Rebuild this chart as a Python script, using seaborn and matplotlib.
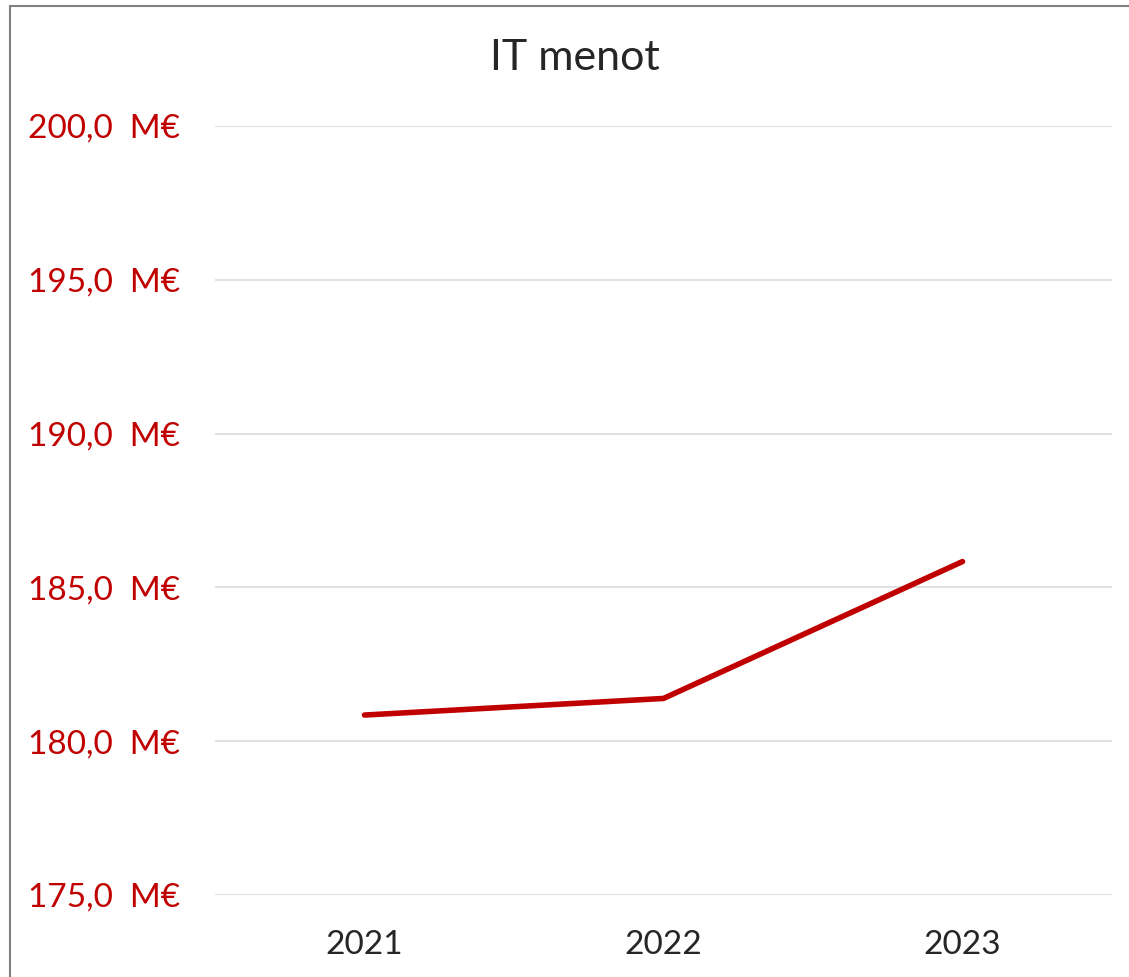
import matplotlib
matplotlib.use('Agg')
import matplotlib.pyplot as plt
import seaborn as sns
import pandas as pd
from matplotlib.patches import Rectangle
from matplotlib.ticker import FuncFormatter

years = ['2021', '2022', '2023']
spend = [180.85, 181.39, 185.84]  # M€
y_ticks = [175, 180, 185, 190, 195, 200]

df = pd.DataFrame({'Year': years, 'Spend': spend})

sns.set_theme(style='white')
plt.rcParams['font.family'] = ['Lato', 'DejaVu Sans']

fig = plt.figure(figsize=(11.29, 9.77), dpi=100)
ax = fig.add_axes([215 / 1129, 1 - 895 / 977, (1112 - 215) / 1129, (895 - 126) / 977])

sns.lineplot(data=df, x='Year', y='Spend', ax=ax, color='#C00000', linewidth=4,
             solid_capstyle='round', sort=False)

ax.set_xlim(-0.5, 2.5)
ax.set_ylim(175, 200)
ax.set_yticks(y_ticks)
ax.yaxis.set_major_formatter(FuncFormatter(lambda v, p: f'{v:.1f}'.replace('.', ',') + '  M€'))
ax.grid(axis='y', color='#DDDDDD', linewidth=1.3)
ax.set_axisbelow(True)
for s in ax.spines.values():
    s.set_visible(False)
ax.tick_params(axis='y', colors='#C00000', labelsize=24, length=0, pad=25)
ax.tick_params(axis='x', colors='#262626', labelsize=24, length=0, pad=25)
for lbl in ax.get_yticklabels():
    lbl.set_color('#C00000')
ax.set_xlabel('')
ax.set_ylabel('')

fig.text(575 / 1129, 1 - 58 / 977, 'IT menot', ha='center', va='center',
         fontsize=31, color='#262626')

# chart border (cropped on right and bottom)
fig.patches.append(Rectangle((10 / 1129, -0.05), 1.2, 1 - 6 / 977 + 0.05,
                             transform=fig.transFigure, fill=False,
                             edgecolor='#7F7F7F', linewidth=1.5))

fig.savefig('out.png', dpi=100)
